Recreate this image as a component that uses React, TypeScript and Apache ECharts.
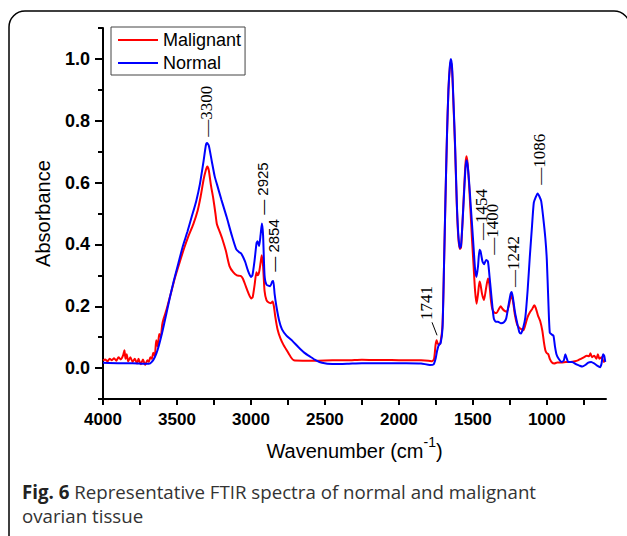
import React, { useEffect, useRef } from 'react';
import * as echarts from 'echarts';

const malignantWave = [
  4000, 3985, 3970, 3955, 3940, 3925, 3910, 3895, 3880, 3865, 3855, 3848, 3840, 3830, 3815, 3800, 3785, 3770, 3760, 3745,
  3730, 3715, 3700, 3690, 3680, 3670, 3660, 3650, 3640, 3630, 3620, 3610, 3600, 3590, 3570, 3545, 3515, 3480, 3450, 3420,
  3390, 3360, 3340, 3320, 3305, 3295, 3285, 3270, 3255, 3240, 3230, 3210, 3195, 3170, 3145, 3120, 3095, 3070, 3055, 3035,
  3015, 2998, 2988, 2975, 2963, 2955, 2945, 2935, 2927, 2918, 2908, 2895, 2880, 2865, 2854, 2845, 2835, 2820, 2800, 2780,
  2755, 2730, 2710, 2650, 2550, 2450, 2350, 2250, 2150, 2050, 1950, 1850, 1800, 1775, 1762, 1752, 1745, 1738, 1728, 1718,
  1705, 1695, 1685, 1675, 1665, 1655, 1648, 1640, 1630, 1620, 1608, 1598, 1588, 1580, 1570, 1560, 1550, 1543, 1535, 1525,
  1515, 1505, 1495, 1485, 1475, 1465, 1455, 1448, 1438, 1425, 1410, 1398, 1388, 1378, 1368, 1355, 1340, 1325, 1312, 1300,
  1285, 1270, 1255, 1240, 1230, 1215, 1200, 1185, 1170, 1158, 1145, 1130, 1115, 1100, 1085, 1075, 1060, 1045, 1030, 1020,
  1010, 1000, 990, 980, 965, 950, 930, 900, 870, 840, 810, 790, 770, 750, 730, 715, 705, 695, 680, 665,
  655, 645, 630, 615, 605,
];
const malignantAbs = [
  0.025, 0.028, 0.022, 0.03, 0.025, 0.032, 0.024, 0.035, 0.028, 0.04, 0.058, 0.03, 0.045, 0.022, 0.035, 0.02, 0.03, 0.015, 0.03, 0.012,
  0.028, 0.01, 0.025, 0.02, 0.035, 0.03, 0.05, 0.04, 0.09, 0.07, 0.11, 0.1, 0.14, 0.16, 0.19, 0.235, 0.29, 0.345, 0.39, 0.43,
  0.465, 0.51, 0.555, 0.61, 0.64, 0.652, 0.64, 0.59, 0.55, 0.5, 0.465, 0.44, 0.42, 0.38, 0.33, 0.31, 0.3, 0.298, 0.29, 0.265,
  0.24, 0.225, 0.23, 0.27, 0.31, 0.3, 0.31, 0.34, 0.365, 0.33, 0.25, 0.22, 0.212, 0.21, 0.215, 0.2, 0.165, 0.125, 0.095, 0.075,
  0.055, 0.035, 0.025, 0.024, 0.024, 0.025, 0.025, 0.027, 0.026, 0.026, 0.025, 0.025, 0.024, 0.022, 0.03, 0.075, 0.09, 0.08, 0.075, 0.085,
  0.14, 0.33, 0.55, 0.75, 0.9, 0.975, 0.99, 0.96, 0.84, 0.71, 0.52, 0.42, 0.385, 0.39, 0.47, 0.57, 0.66, 0.685, 0.66, 0.59,
  0.5, 0.41, 0.33, 0.25, 0.208, 0.24, 0.28, 0.27, 0.24, 0.22, 0.26, 0.29, 0.27, 0.22, 0.19, 0.18, 0.178, 0.19, 0.2, 0.192,
  0.185, 0.182, 0.205, 0.235, 0.22, 0.17, 0.14, 0.13, 0.125, 0.122, 0.14, 0.165, 0.18, 0.19, 0.203, 0.195, 0.17, 0.152, 0.12, 0.085,
  0.058, 0.048, 0.045, 0.03, 0.018, 0.015, 0.018, 0.018, 0.02, 0.02, 0.022, 0.025, 0.03, 0.035, 0.04, 0.038, 0.048, 0.035, 0.04, 0.03,
  0.045, 0.03, 0.035, 0.02, 0.025,
];

const normalWave = [
  4000, 3900, 3800, 3720, 3690, 3670, 3650, 3630, 3600, 3570, 3545, 3520, 3490, 3460, 3430, 3400, 3370, 3345, 3320, 3305,
  3297, 3285, 3265, 3245, 3230, 3200, 3165, 3130, 3100, 3080, 3065, 3040, 3020, 3000, 2990, 2975, 2962, 2955, 2945, 2935,
  2926, 2918, 2908, 2895, 2870, 2856, 2849, 2840, 2828, 2810, 2790, 2760, 2720, 2680, 2640, 2600, 2560, 2520, 2450, 2350,
  2250, 2150, 2050, 1950, 1850, 1790, 1765, 1752, 1742, 1730, 1718, 1705, 1695, 1685, 1675, 1665, 1655, 1648, 1640, 1630,
  1620, 1608, 1598, 1588, 1580, 1570, 1560, 1550, 1543, 1535, 1525, 1515, 1505, 1495, 1485, 1475, 1465, 1455, 1448, 1435,
  1424, 1410, 1398, 1388, 1378, 1368, 1358, 1345, 1330, 1310, 1290, 1275, 1260, 1245, 1238, 1230, 1215, 1200, 1185, 1175,
  1160, 1145, 1130, 1115, 1100, 1088, 1075, 1062, 1050, 1038, 1025, 1010, 1000, 990, 980, 965, 955, 945, 935, 920,
  900, 885, 875, 868, 855, 830, 800, 780, 760, 740, 720, 700, 680, 660, 640, 630, 620, 612, 605,
];
const normalAbs = [
  0.017, 0.016, 0.016, 0.014, 0.014, 0.02, 0.035, 0.06, 0.115, 0.18, 0.235, 0.285, 0.34, 0.395, 0.44, 0.49, 0.54, 0.595, 0.67, 0.72,
  0.728, 0.72, 0.67, 0.62, 0.595, 0.545, 0.49, 0.43, 0.385, 0.375, 0.37, 0.345, 0.315, 0.295, 0.3, 0.35, 0.405, 0.41, 0.395, 0.43,
  0.468, 0.43, 0.3, 0.27, 0.265, 0.28, 0.282, 0.24, 0.2, 0.155, 0.125, 0.105, 0.088, 0.068, 0.05, 0.037, 0.025, 0.017, 0.013, 0.014,
  0.016, 0.016, 0.016, 0.016, 0.015, 0.01, 0.012, 0.03, 0.055, 0.075, 0.08, 0.13, 0.33, 0.55, 0.75, 0.9, 0.98, 1.0, 0.97, 0.85,
  0.72, 0.53, 0.43, 0.388, 0.395, 0.47, 0.56, 0.645, 0.672, 0.655, 0.6, 0.53, 0.46, 0.39, 0.32, 0.295, 0.33, 0.383, 0.378, 0.345,
  0.336, 0.35, 0.345, 0.3, 0.25, 0.2, 0.16, 0.15, 0.15, 0.145, 0.148, 0.16, 0.2, 0.24, 0.246, 0.23, 0.18, 0.145, 0.115, 0.112,
  0.13, 0.165, 0.25, 0.36, 0.46, 0.535, 0.553, 0.565, 0.555, 0.54, 0.49, 0.42, 0.35, 0.22, 0.115, 0.108, 0.105, 0.07, 0.045, 0.03,
  0.02, 0.025, 0.045, 0.035, 0.02, 0.02, 0.012, 0.008, 0.005, 0.01, 0.018, 0.02, 0.015, 0.008, 0.003, 0.015, 0.045, 0.04, 0.02,
];

const xTickValues = [750, 1000, 1250, 1500, 1750, 2000, 2250, 2500, 2750, 3000, 3250, 3500, 3750, 4000];
const xLabelValues = [1000, 1500, 2000, 2500, 3000, 3500, 4000];
const yMinorTickValues = [-0.1, 0, 0.1, 0.2, 0.3, 0.4, 0.5, 0.6, 0.7, 0.8, 0.9, 1.0, 1.1];
const yLabelValues = [0, 0.2, 0.4, 0.6, 0.8, 1.0];

const annWave = [3300, 2918, 2844, 1809, 1438, 1363, 1221, 1045];
const annAbs = [0.747, 0.494, 0.31, 0.154, 0.413, 0.365, 0.261, 0.591];
const annText = ['—3300', '— 2925', '— 2854', '1741', '—1454', '—1400', '—1242', '—1086'];
const annSerif = [true, false, false, true, true, true, true, true];

const leaderWave = [1776, 1742];
const leaderAbs = [0.148, 0.106];

const SANS = 'Liberation Sans, Arial, sans-serif';
const SERIF = 'Liberation Serif, Times New Roman, serif';

export default function App() {
  const ref = useRef<HTMLDivElement>(null);
  useEffect(() => {
    document.body.style.margin = '0';
    const chart = echarts.init(ref.current!, null, { renderer: 'svg' });
    const option: any = {
      animation: false,
      backgroundColor: '#fff',
      grid: { left: 103, right: 21, top: 28, bottom: 137 },
      legend: {
        data: ['Malignant', 'Normal'],
        orient: 'vertical',
        left: 111,
        top: 27,
        icon: 'rect',
        itemWidth: 40,
        itemHeight: 2,
        itemGap: 3,
        padding: [3, 4, 2, 7],
        borderColor: '#444',
        borderWidth: 1,
        textStyle: { fontSize: 18, fontFamily: SANS, color: '#000', lineHeight: 20 },
      },
      xAxis: {
        type: 'value',
        min: 600,
        max: 4000,
        inverse: true,
        axisLine: { show: true, onZero: false, lineStyle: { color: '#000', width: 2 } },
        axisTick: { show: true, customValues: xTickValues, length: 6, lineStyle: { color: '#000', width: 2 } },
        axisLabel: {
          customValues: xLabelValues,
          formatter: (v: number) => String(v),
          fontWeight: 'bold',
          fontSize: 17,
          fontFamily: SANS,
          color: '#000',
          margin: 12,
        },
        splitLine: { show: false },
        name: '{n|Wavenumber (cm}{s|-1}{n|)}',
        nameLocation: 'middle',
        nameGap: 36,
        nameTextStyle: {
          rich: {
            n: { fontSize: 20, fontFamily: SANS, color: '#000', lineHeight: 32 },
            s: { fontSize: 14, fontFamily: SANS, color: '#000', verticalAlign: 'top', lineHeight: 18 },
          },
        },
      },
      yAxis: [
        {
          type: 'value',
          min: -0.1,
          max: 1.1,
          position: 'left',
          axisLine: { show: true, onZero: false, lineStyle: { color: '#000', width: 2 } },
          axisTick: { show: true, customValues: yMinorTickValues, length: 5, lineStyle: { color: '#000', width: 2 } },
          axisLabel: {
            customValues: yLabelValues,
            formatter: (v: number) => v.toFixed(1),
            fontWeight: 'bold',
            fontSize: 18,
            fontFamily: SANS,
            color: '#000',
            margin: 13,
          },
          splitLine: { show: false },
          name: 'Absorbance',
          nameLocation: 'middle',
          nameGap: 50,
          nameTextStyle: { fontSize: 20, fontFamily: SANS, color: '#000' },
        },
        {
          type: 'value',
          min: -0.1,
          max: 1.1,
          position: 'left',
          axisLine: { show: false },
          axisTick: { show: true, customValues: yLabelValues, length: 8, lineStyle: { color: '#000', width: 2 } },
          axisLabel: { show: false },
          splitLine: { show: false },
        },
      ],
      series: [
        {
          name: 'Malignant',
          type: 'line',
          symbol: 'none',
          smooth: 0.2,
          lineStyle: { color: '#ff0000', width: 2 },
          itemStyle: { color: '#ff0000' },
          data: malignantWave.map((w, i) => [w, malignantAbs[i]]),
          z: 2,
        },
        {
          name: 'Normal',
          type: 'line',
          symbol: 'none',
          smooth: 0.2,
          lineStyle: { color: '#0000ff', width: 2 },
          itemStyle: { color: '#0000ff' },
          data: normalWave.map((w, i) => [w, normalAbs[i]]),
          z: 3,
        },
        {
          name: 'leader',
          type: 'line',
          symbol: 'none',
          lineStyle: { color: '#000', width: 1 },
          itemStyle: { color: '#000' },
          data: leaderWave.map((w, i) => [w, leaderAbs[i]]),
          silent: true,
          z: 4,
        },
        {
          name: 'annotations',
          type: 'scatter',
          symbolSize: 1,
          itemStyle: { color: 'rgba(0,0,0,0)' },
          silent: true,
          z: 5,
          labelLayout: { hideOverlap: false },
          label: {
            show: true,
            position: [0, 0],
            rotate: 90,
            align: 'left',
            verticalAlign: 'middle',
            color: '#000',
          },
          data: annWave.map((w, i) => ({
            value: [w, annAbs[i]],
            label: {
              show: true,
              formatter: annText[i],
              color: '#000',
              opacity: 1,
              textBorderWidth: 0,
              fontFamily: annSerif[i] ? SERIF : SANS,
              fontSize: annSerif[i] ? 17 : 15,
            },
          })),
        },
      ],
      graphic: [
        {
          type: 'rect',
          silent: true,
          shape: { x: 9, y: 11, width: 621, height: 540, r: 16 },
          style: { fill: 'none', stroke: '#000', lineWidth: 1.5 },
        },
        {
          type: 'text',
          left: 22,
          top: 479,
          silent: true,
          style: {
            text: '{b|Fig. 6} {r|Representative FTIR spectra of normal and malignant}\n{r|ovarian tissue}',
            rich: {
              b: { fontSize: 18.7, fontFamily: 'Open Sans', fontWeight: 'bold', fill: '#222', lineHeight: 24 },
              r: { fontSize: 18.7, fontFamily: 'Open Sans', fill: '#333', lineHeight: 24 },
            },
            fontSize: 18.7,
            fontFamily: 'Open Sans',
            fill: '#333',
            lineHeight: 24,
          },
        },
      ],
    };
    chart.setOption(option);
    return () => chart.dispose();
  }, []);
  return <div ref={ref} style={{ width: 627, height: 536 }} />;
}
